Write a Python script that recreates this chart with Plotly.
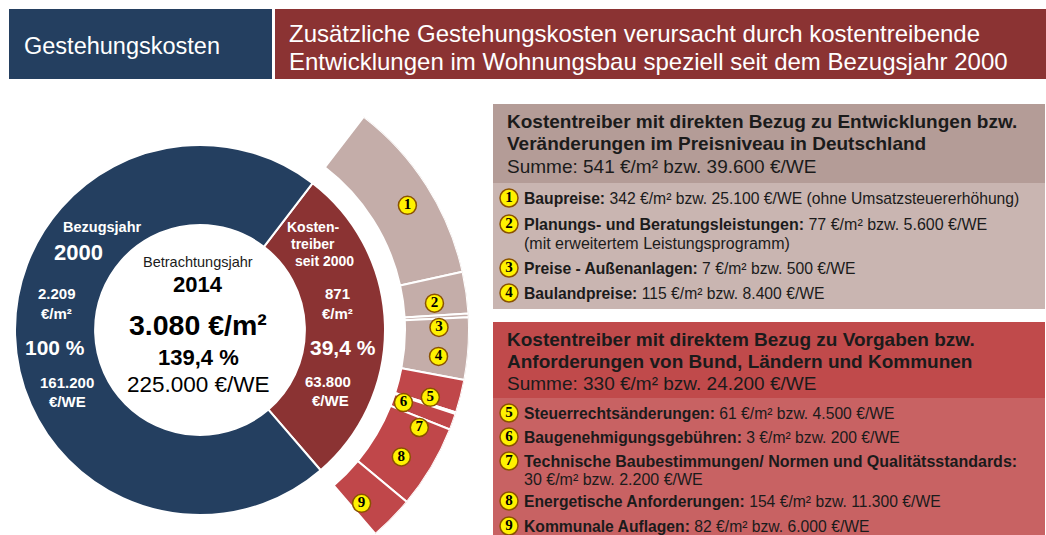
import numpy as np
import plotly.graph_objects as go

W, H = 1046, 535
FONT = "Liberation Sans"
SERIF = "Liberation Serif"

# ---------------- data ----------------
base_year = 2000
view_year = 2014
base_m2 = 2209          # €/m² Bezugsjahr 2000
base_we = 161200        # €/WE Bezugsjahr 2000

driver_ids = ["1", "2", "3", "4", "5", "6", "7", "8", "9"]
driver_names = [
    "Baupreise",
    "Planungs- und Beratungsleistungen",
    "Preise - Außenanlagen",
    "Baulandpreise",
    "Steuerrechtsänderungen",
    "Baugenehmigungsgebühren",
    "Technische Baubestimmungen/ Normen und Qualitätsstandards",
    "Energetische Anforderungen",
    "Kommunale Auflagen",
]
driver_m2 = [342, 77, 7, 115, 61, 3, 30, 154, 82]
driver_we = [25100, 5600, 500, 8400, 4500, 200, 2200, 11300, 6000]
driver_group = ["A", "A", "A", "A", "B", "B", "B", "B", "B"]
driver_note = ["(ohne Umsatzsteuererhöhung)", "(mit erweitertem Leistungsprogramm)",
               "", "", "", "", "", "", ""]

group_titles = {
    "A": ["Kostentreiber mit direkten Bezug zu Entwicklungen bzw.",
          "Veränderungen im Preisniveau in Deutschland"],
    "B": ["Kostentreiber mit direktem Bezug zu Vorgaben bzw.",
          "Anforderungen von Bund, Ländern und Kommunen"],
}

# ---------------- styles ----------------
NAVY = "#243F60"
DARKRED = "#8B3333"
RING_A = "#C4ADA9"
RING_B = "#C0474A"
PANEL_A_HEAD = "#B49C97"
PANEL_A_BODY = "#C9B5B1"
PANEL_B_HEAD = "#C04A4B"
PANEL_B_BODY = "#C86263"
TXT = "#1b1b1b"
YELLOW = "#FFF200"
BADGE_LINE = "#8A5200"


def de(n):
    return f"{n:,}".replace(",", ".")


drivers_m2 = int(np.sum(driver_m2))
drivers_we = int(np.sum(driver_we))
total_m2 = base_m2 + drivers_m2
total_we = base_we + drivers_we
pct_total = total_m2 / base_m2 * 100
pct_drivers = drivers_m2 / base_m2 * 100

fig = go.Figure()

# hidden pixel axes for decorations / text placement
fig.update_layout(
    xaxis=dict(range=[0, W], visible=False, fixedrange=True, domain=[0, 1]),
    yaxis=dict(range=[H, 0], visible=False, fixedrange=True, domain=[0, 1]),
)

# ---------------- inner donut ----------------
START = 37.5
CX, CY, R_IN = 200, 330, 185
fig.add_trace(go.Pie(
    values=[drivers_m2, base_m2],
    labels=["Kostentreiber seit 2000", "Bezugsjahr 2000"],
    marker=dict(colors=[DARKRED, NAVY], line=dict(color="white", width=2)),
    hole=0.567, rotation=START, direction="clockwise", sort=False,
    textinfo="none", hoverinfo="label+value", showlegend=False,
    domain=dict(x=[(CX - R_IN) / W, (CX + R_IN) / W],
                y=[1 - (CY + R_IN) / H, 1 - (CY - R_IN) / H]),
))

# ---------------- outer ring (barpolar) ----------------
R_OUT = 269
R_BASE = 205
deg_per = 360.0 / total_m2
vals = np.array(driver_m2, dtype=float)
cum = np.cumsum(vals)
theta_mid = START + (cum - vals / 2) * deg_per
widths = vals * deg_per
ring_colors = [RING_A if g == "A" else RING_B for g in driver_group]

fig.add_trace(go.Barpolar(
    r=[R_OUT - R_BASE] * len(vals), base=R_BASE, theta=theta_mid, width=widths,
    marker=dict(color=ring_colors, line=dict(color="white", width=2)),
    subplot="polar", showlegend=False, hoverinfo="skip",
))

label_r = [242, 236, 239, 240, 240, 216, 240, 238, 237]
label_dt = [1.5, 1.5, 2.5, 2.3, 2.0, 1.6, 4.0, 1.5, 2.5]
fig.add_trace(go.Scatterpolar(
    r=label_r, theta=list(theta_mid + np.array(label_dt)),
    mode="markers+text", text=[f"<b>{i}</b>" for i in driver_ids],
    textposition="middle center",
    textfont=dict(family=SERIF, size=15, color="black"),
    marker=dict(size=18, color=YELLOW, line=dict(color=BADGE_LINE, width=1.5)),
    subplot="polar", showlegend=False, hoverinfo="skip", cliponaxis=False,
))

sec = [-49.5, 56]
bb_top = np.sin(np.radians(sec[1]))
bb_bot = np.sin(np.radians(sec[0]))
top_px = CY - bb_top * R_OUT
bot_px = CY - bb_bot * R_OUT
fig.update_layout(polar=dict(
    domain=dict(x=[CX / W, (CX + R_OUT) / W], y=[max(0, 1 - bot_px / H), 1 - top_px / H]),
    sector=sec, hole=0, bgcolor="rgba(0,0,0,0)",
    radialaxis=dict(range=[0, R_OUT], visible=False),
    angularaxis=dict(rotation=90, direction="clockwise", visible=False),
))

# ---------------- shapes ----------------
shapes = [
    dict(type="rect", x0=9, x1=272, y0=9, y1=79, fillcolor=NAVY, line_width=0),
    dict(type="rect", x0=275, x1=W, y0=9, y1=79, fillcolor=DARKRED, line_width=0),
    dict(type="rect", x0=493, x1=1045, y0=104, y1=183, fillcolor=PANEL_A_HEAD, line_width=0),
    dict(type="rect", x0=493, x1=1045, y0=183, y1=309, fillcolor=PANEL_A_BODY, line_width=0),
    dict(type="rect", x0=493, x1=1045, y0=322, y1=398, fillcolor=PANEL_B_HEAD, line_width=0),
    dict(type="rect", x0=493, x1=1045, y0=398, y1=H, fillcolor=PANEL_B_BODY, line_width=0),
]
for s in shapes:
    s.update(xref="x", yref="y", layer="below")
fig.update_layout(shapes=shapes)

annotations = []


def txt(x, y, s, size, color=TXT, bold=False, xanchor="center", family=FONT):
    annotations.append(dict(
        x=x, y=y, xref="x", yref="y", text=f"<b>{s}</b>" if bold else s,
        showarrow=False, xanchor=xanchor, yanchor="middle",
        font=dict(family=family, size=size, color=color), borderpad=0,
    ))


# header
txt(23, 46, "Gestehungskosten", 23.5, "white", xanchor="left")
txt(288, 33, "Zusätzliche Gestehungskosten verursacht durch kostentreibende", 24, "white", xanchor="left")
txt(288, 61, "Entwicklungen im Wohnungsbau speziell seit dem Bezugsjahr 2000", 24, "white", xanchor="left")

# donut labels - base year
txt(102, 227, "Bezugsjahr", 14.5, "white", True)
txt(78, 252, str(base_year), 22, "white", True)
txt(57, 293, de(base_m2), 15, "white", True)
txt(56, 313, "€/m²", 15, "white", True)
txt(55, 347, "100 %", 21, "white", True)
txt(67, 382, de(base_we), 15, "white", True)
txt(67, 401, "€/WE", 15, "white", True)

# center
txt(198, 262, "Betrachtungsjahr", 14.5, TXT)
txt(198, 284, str(view_year), 22, "black", True)
txt(198, 325, f"{de(total_m2)} €/m²", 28.5, "black", True)
txt(198, 357, f"{pct_total:.1f} %".replace(".", ","), 22, "black", True)
txt(198, 384, f"{de(total_we)} €/WE", 22.5, "black")

# drivers in donut
txt(313, 227, "Kosten-", 14, "white", True)
txt(313, 244, "treiber", 14, "white", True)
txt(324, 261, f"seit {base_year}", 14, "white", True)
txt(337, 293, str(drivers_m2), 15, "white", True)
txt(337, 313, "€/m²", 15, "white", True)
txt(343, 347, f"{pct_drivers:.1f} %".replace(".", ","), 21, "white", True)
txt(328, 381, de(drivers_we), 15, "white", True)
txt(330, 400, "€/WE", 15, "white", True)

# panels
panel_title_y = {"A": [121, 143, 166], "B": [339, 361, 383]}
for g in ["A", "B"]:
    idx = [i for i, gg in enumerate(driver_group) if gg == g]
    s_m2 = sum(driver_m2[i] for i in idx)
    s_we = sum(driver_we[i] for i in idx)
    ys = panel_title_y[g]
    txt(506, ys[0], group_titles[g][0], 19, TXT, True, "left")
    txt(506, ys[1], group_titles[g][1], 19, TXT, True, "left")
    txt(506, ys[2], f"Summe: {s_m2} €/m² bzw. {de(s_we)} €/WE", 19, TXT, False, "left")

item_y = [198, 224, 268, 293, 413, 437, 461, 501, 526]
sub_y = {1: 243, 6: 479}
for i in range(len(driver_ids)):
    val = f"{driver_m2[i]} €/m² bzw. {de(driver_we[i])} €/WE"
    note = driver_note[i]
    if i == 6:
        txt(523, item_y[i], f"<b>{driver_names[i]}:</b>", 16, TXT, False, "left")
        txt(523, sub_y[i], val, 16, TXT, False, "left")
    elif i == 1:
        txt(523, item_y[i], f"<b>{driver_names[i]}:</b> {val}", 16, TXT, False, "left")
        txt(523, sub_y[i], note, 16, TXT, False, "left")
    else:
        extra = f" {note}" if note else ""
        txt(523, item_y[i], f"<b>{driver_names[i]}:</b> {val}{extra}", 15.7, TXT, False, "left")

fig.add_trace(go.Scatter(
    x=[509] * len(item_y), y=item_y, mode="markers+text",
    text=[f"<b>{i}</b>" for i in driver_ids], textposition="middle center",
    textfont=dict(family=SERIF, size=15, color="black"),
    marker=dict(size=18, color=YELLOW, line=dict(color=BADGE_LINE, width=1.5)),
    showlegend=False, hoverinfo="skip", cliponaxis=False,
))

fig.update_layout(
    annotations=annotations,
    width=W, height=H, margin=dict(l=0, r=0, t=0, b=0),
    paper_bgcolor="white", plot_bgcolor="rgba(0,0,0,0)",
    showlegend=False,
)

fig.write_html(
    "out.html",
    config={"displayModeBar": False},
    post_script="document.body.style.margin='0';document.body.style.overflow='hidden';",
)
